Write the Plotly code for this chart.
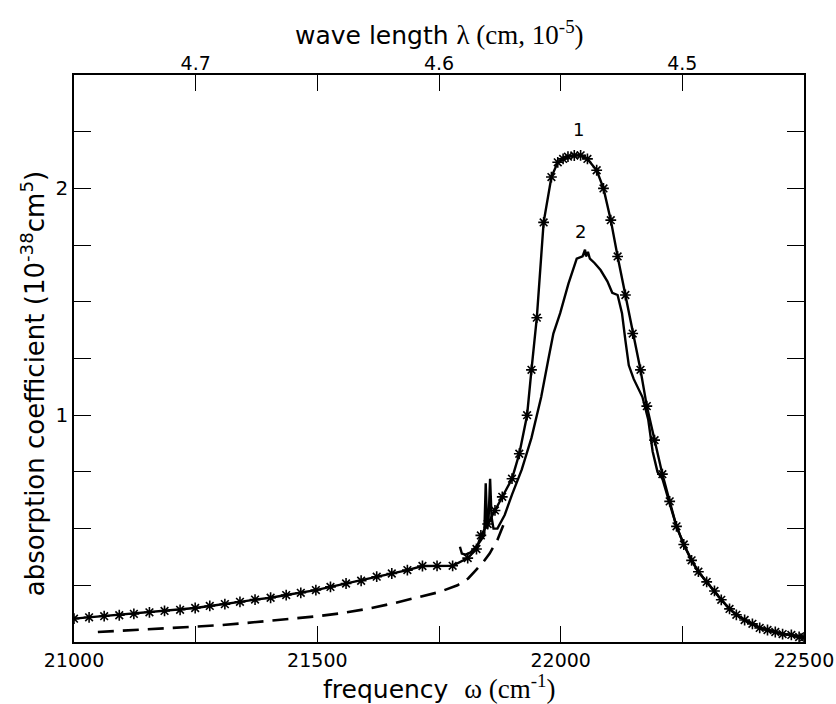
import plotly.graph_objects as go

# Curve 1 (with asterisk markers)
w1 = [21000, 21031, 21062, 21093, 21123, 21155, 21186, 21218, 21249, 21279, 21310, 21341,
      21372, 21404, 21436, 21466, 21497, 21527, 21559, 21590, 21622, 21653, 21685, 21716,
      21746, 21778, 21809, 21827, 21836, 21850, 21865, 21880, 21900, 21915, 21931, 21940,
      21951, 21965, 21981, 21994, 22005, 22015, 22028, 22041, 22055, 22074, 22088, 22103,
      22117, 22133, 22148, 22164, 22177, 22193, 22209, 22224, 22238, 22253, 22269, 22283,
      22300, 22316, 22330, 22347, 22361, 22378, 22394, 22409, 22425, 22441, 22456, 22474,
      22490, 22500]
a1 = [0.103, 0.109, 0.114, 0.118, 0.124, 0.131, 0.137, 0.142, 0.150, 0.159, 0.167, 0.177,
      0.187, 0.195, 0.207, 0.217, 0.229, 0.243, 0.258, 0.270, 0.288, 0.302, 0.317, 0.335,
      0.336, 0.336, 0.37, 0.41, 0.47, 0.52, 0.58, 0.64, 0.72, 0.83, 1.00, 1.20,
      1.43, 1.85, 2.05, 2.115, 2.13, 2.14, 2.145, 2.146, 2.13, 2.08, 2.00, 1.86,
      1.70, 1.53, 1.36, 1.20, 1.04, 0.89, 0.74, 0.62, 0.51, 0.43, 0.36, 0.31,
      0.265, 0.225, 0.186, 0.146, 0.12, 0.097, 0.080, 0.062, 0.053, 0.044, 0.035, 0.031,
      0.022, 0.020]

# Curve 2 (solid line)
w2 = [21793, 21797, 21805, 21815, 21830, 21843, 21846, 21849, 21852, 21855, 21858, 21862,
      21870, 21885, 21900, 21920, 21940, 21960, 21975, 21985, 21999, 22016, 22033, 22045,
      22050, 22052, 22056, 22060, 22070, 22082, 22096, 22106, 22117, 22126, 22133, 22140,
      22150, 22168, 22180, 22189, 22199, 22209, 22224, 22238, 22253, 22269, 22283, 22300,
      22316, 22330, 22347, 22361, 22378, 22394, 22409, 22425, 22441, 22456, 22474, 22490,
      22500]
a2 = [0.42, 0.39, 0.385, 0.395, 0.43, 0.47, 0.70, 0.50, 0.55, 0.72, 0.55, 0.50,
      0.50, 0.56, 0.65, 0.76, 0.90, 1.08, 1.25, 1.36, 1.45, 1.58, 1.69, 1.70,
      1.73, 1.70, 1.72, 1.69, 1.67, 1.64, 1.59, 1.54, 1.53, 1.45, 1.33, 1.22,
      1.16, 1.08, 0.98, 0.84, 0.75, 0.72, 0.61, 0.51, 0.43, 0.36, 0.31, 0.265,
      0.225, 0.186, 0.146, 0.12, 0.097, 0.080, 0.062, 0.053, 0.044, 0.035, 0.031, 0.022,
      0.020]

# Dashed curve
w3 = [21049, 21100, 21150, 21200, 21248, 21300, 21350, 21400, 21450, 21497, 21550, 21600,
      21655, 21710, 21750, 21788, 21810, 21823, 21840, 21854, 21870, 21885]
a3 = [0.044, 0.050, 0.056, 0.061, 0.066, 0.074, 0.083, 0.093, 0.103, 0.113, 0.127, 0.145,
      0.170, 0.200, 0.220, 0.250, 0.280, 0.310, 0.350, 0.390, 0.450, 0.530]

x_ticks = [21000, 21250, 21500, 21750, 22000, 22250, 22500]
x_ticktext = ["21000", "", "21500", "", "22000", "", "22500"]
top_ticks = [21250, 21500, 21750, 22000, 22250]
top_ticktext = ["4.7", "", "4.6", "", "4.5"]
y_ticks = [0, 0.25, 0.5, 0.75, 1, 1.25, 1.5, 1.75, 2, 2.25, 2.5]
y_ticktext = ["", "", "", "", "1", "", "", "", "2", "", ""]

SANS = "DejaVu Sans, Arial, sans-serif"

fig = go.Figure()
fig.add_trace(go.Scatter(x=w3, y=a3, mode="lines",
                         line=dict(color="black", width=2.6, dash="16px,9px"), showlegend=False))
fig.add_trace(go.Scatter(x=w2, y=a2, mode="lines",
                         line=dict(color="black", width=2.4), showlegend=False))
fig.add_trace(go.Scatter(x=w1, y=a1, mode="lines+markers",
                         line=dict(color="black", width=2.4),
                         marker=dict(symbol="asterisk-open", size=9, color="black",
                                     line=dict(color="black", width=1.6)),
                         showlegend=False))
# invisible trace for top axis
fig.add_trace(go.Scatter(x=[21000, 22500], y=[0, 0], xaxis="x2", mode="markers",
                         marker=dict(opacity=0), showlegend=False, hoverinfo="skip"))

fig.update_layout(
    width=836, height=704, autosize=False,
    margin=dict(l=74, r=32, t=75, b=62),
    paper_bgcolor="white", plot_bgcolor="white",
    font=dict(family=SANS, size=18, color="black"),
    xaxis=dict(range=[21000, 22500], tickvals=x_ticks, ticktext=x_ticktext,
               ticks="inside", ticklen=16, tickwidth=1.2, tickcolor="black",
               showline=True, linecolor="black", linewidth=1.5, mirror=True,
               ticklabeloverflow="allow", automargin=False,
               showgrid=False, zeroline=False, tickfont=dict(family=SANS, size=19)),
    xaxis2=dict(range=[21000, 22500], overlaying="x", side="top",
                tickvals=top_ticks, ticktext=top_ticktext, automargin=False,
                ticks="inside", ticklen=16, tickwidth=1.2, tickcolor="black",
                showline=False, showgrid=False, zeroline=False,
                tickfont=dict(family=SANS, size=19)),
    yaxis=dict(range=[0, 2.5], tickvals=y_ticks, ticktext=y_ticktext, automargin=False,
               ticks="inside", ticklen=17, tickwidth=1.2, tickcolor="black",
               showline=True, linecolor="black", linewidth=1.5, mirror="ticks",
               showgrid=False, zeroline=False, tickfont=dict(family=SANS, size=20)),
    annotations=[
        dict(text="frequency  <span style='font-family:Liberation Serif;font-size:27px'>ω (cm<sup>-1</sup>)</span>",
             x=0.5, y=-0.08, xref="paper", yref="paper", showarrow=False,
             xanchor="center", yanchor="middle", font=dict(family=SANS, size=25)),
        dict(text="wave length <span style='font-family:Liberation Serif;font-size:27px'>λ (cm, 10<sup>-5</sup>)</span>",
             x=0.5, y=1.074, xref="paper", yref="paper", showarrow=False,
             xanchor="center", yanchor="middle", font=dict(family=SANS, size=25)),
        dict(text="absorption coefficient (10<sup>-38</sup>cm<sup>5</sup>)",
             x=-0.056, y=0.455, xref="paper", yref="paper", showarrow=False,
             textangle=-90, xanchor="center", yanchor="middle", font=dict(family=SANS, size=26)),
        dict(text="1", x=22037, y=2.26, showarrow=False, font=dict(family=SANS, size=18)),
        dict(text="2", x=22040, y=1.81, showarrow=False, font=dict(family=SANS, size=18)),
    ],
)

fig.write_html("out.html",
               config={"displayModeBar": False, "responsive": False},
               post_script="document.body.style.margin='0px';document.body.style.overflow='hidden';")
